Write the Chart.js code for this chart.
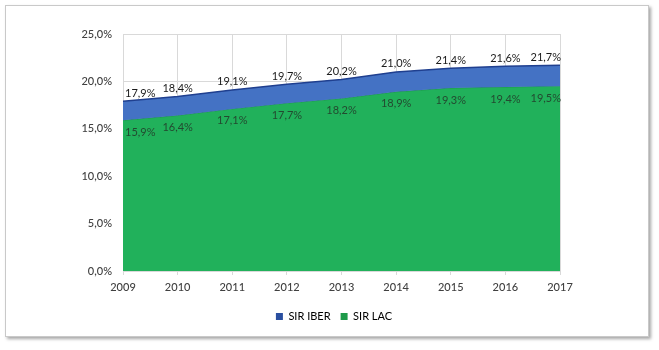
<!DOCTYPE html>
<html>
<head>
<meta charset="utf-8">
<script src="https://cdn.jsdelivr.net/npm/chart.js@4"></script>
<style>
  html, body { margin: 0; padding: 0; background: #ffffff; }
  #wrap { position: relative; width: 659px; height: 350px; }
  #frame { position: absolute; left: 5px; top: 5px; width: 642px; height: 330px;
           border: 1px solid #c9c9c9; background: #fff;
           box-shadow: 2px 2px 3px rgba(0,0,0,0.35); }
  canvas { position: absolute; left: 0; top: 0; }
</style>
</head>
<body>
<div id="wrap">
  <div id="frame"></div>
  <canvas id="c" width="659" height="350"></canvas>
</div>
<script>
const categories = ['2009','2010','2011','2012','2013','2014','2015','2016','2017'];
const sirIber = [17.9, 18.4, 19.1, 19.7, 20.2, 21.0, 21.4, 21.6, 21.7];
const sirLac  = [15.9, 16.4, 17.1, 17.7, 18.2, 18.9, 19.3, 19.4, 19.5];
const yTicks  = [0, 5, 10, 15, 20, 25];

const FONT = 'Lato, "Open Sans", sans-serif';
const fmt = v => v.toFixed(1).replace('.', ',') + '%';

const labelPlugin = {
  id: 'valueLabels',
  afterDatasetsDraw(chart) {
    const ctx = chart.ctx;
    const area = chart.chartArea;
    ctx.save();
    ctx.font = '11px ' + FONT;
    ctx.textBaseline = 'middle';
    ctx.textAlign = 'center';
    chart.data.datasets.forEach((ds, di) => {
      const meta = chart.getDatasetMeta(di);
      meta.data.forEach((pt, i) => {
        const txt = fmt(ds.data[i]);
        const w = ctx.measureText(txt).width;
        let x = pt.x;
        x = Math.max(area.left + w / 2 + 2, Math.min(area.right - w / 2 + 1, x));
        const y = di === 0 ? pt.y - 8 : pt.y + 12;
        ctx.fillStyle = di === 0 ? '#1a1a1a' : '#234a30';
        ctx.fillText(txt, x, y);
      });
    });
    ctx.restore();
  }
};

const legendShift = {
  id: 'legendShift',
  afterLayout(chart) {
    const lg = chart.legend;
    if (!lg) return;
    const shift = 334 - (lg.left + lg.right) / 2;
    lg.left += shift;
    lg.right += shift;
  }
};

new Chart(document.getElementById('c'), {
  type: 'line',
  data: {
    labels: categories,
    datasets: [
      { label: 'SIR IBER', data: sirIber, fill: '+1',
        backgroundColor: '#4472c4', borderColor: '#1f3f8f', borderWidth: 1.5,
        pointRadius: 0, tension: 0 },
      { label: 'SIR LAC', data: sirLac, fill: 'origin',
        backgroundColor: '#21b15b', borderColor: '#1c9a4c', borderWidth: 1,
        pointRadius: 0, tension: 0 }
    ]
  },
  options: {
    responsive: false,
    animation: false,
    events: [],
    layout: { padding: { left: 0, right: 99, top: 34, bottom: 18 } },
    scales: {
      x: {
        offset: false,
        grid: { color: '#d9d9d9', lineWidth: 1, drawTicks: true, tickLength: 4, tickColor: '#d9d9d9' },
        border: { display: true, color: '#d9d9d9' },
        ticks: { color: '#404040', font: { family: FONT, size: 11, weight: '500' }, padding: 6, maxRotation: 0 },
        afterFit: s => { s.height = 30; }
      },
      y: {
        min: 0, max: 25,
        afterBuildTicks: s => { s.ticks = yTicks.map(v => ({ value: v })); },
        grid: { color: '#d9d9d9', drawTicks: false },
        border: { display: false },
        ticks: { color: '#404040', font: { family: FONT, size: 11, weight: '500' }, padding: 11,
                 callback: v => fmt(v) },
        afterFit: s => { s.width = 123; }
      }
    },
    plugins: {
      legend: {
        position: 'bottom',
        labels: { boxWidth: 7, boxHeight: 7, padding: 10, color: '#404040',
                  font: { family: FONT, size: 11 },
                  generateLabels: chart => chart.data.datasets.map((d, i) => ({
                    text: d.label, fillStyle: i === 0 ? '#2a4fa0' : '#1e9a4a',
                    strokeStyle: i === 0 ? '#2a4fa0' : '#1e9a4a', lineWidth: 0,
                    datasetIndex: i, hidden: false })) }
      },
      tooltip: { enabled: false }
    }
  },
  plugins: [labelPlugin, legendShift]
});
</script>
</body>
</html>
